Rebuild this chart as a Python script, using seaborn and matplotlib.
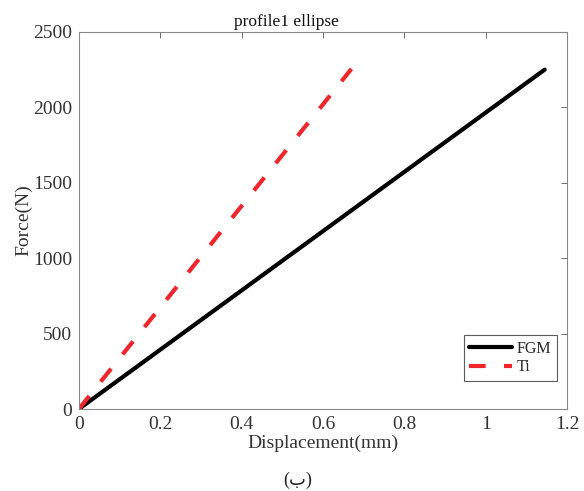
import numpy as np
import pandas as pd
import matplotlib
matplotlib.use("Agg")
import matplotlib.pyplot as plt
import seaborn as sns

# endpoints of the two (linear) force-displacement curves
fgm_disp = [0.0, 1.145]
fgm_force = [0.0, 2250.0]
ti_disp = [0.0, 0.67]
ti_force = [0.0, 2255.0]

x_ticks = [0, 0.2, 0.4, 0.6, 0.8, 1, 1.2]
x_labels = ["0", "0.2", "0.4", "0.6", "0.8", "1", "1.2"]
y_ticks = [0, 500, 1000, 1500, 2000, 2500]

df = pd.concat([
    pd.DataFrame({"disp": fgm_disp, "force": fgm_force, "mat": "FGM"}),
    pd.DataFrame({"disp": ti_disp, "force": ti_force, "mat": "Ti"}),
])

sns.set_theme(style="white")
plt.rcParams['font.family'] = ['Liberation Serif', 'DejaVu Sans']

red = "#f0262b"
ti_dash = (4.0, 4.4)

fig = plt.figure(figsize=(5.84, 4.91), dpi=100)
ax = fig.add_axes([0.135, 0.167, 0.836, 0.768])

sns.lineplot(data=df, x="disp", y="force", hue="mat", style="mat",
             palette={"FGM": "black", "Ti": red},
             dashes={"FGM": "", "Ti": ti_dash},
             linewidth=3, ax=ax, legend=False)

ax.set_xlim(0, 1.2)
ax.set_ylim(0, 2500)
ax.set_xticks(x_ticks)
ax.set_xticklabels(x_labels)
ax.set_yticks(y_ticks)
ax.tick_params(direction="in", length=4, width=0.6, color="#555555",
               top=True, right=True, labelsize=14, pad=5, labelcolor="#333333")
for s in ax.spines.values():
    s.set_color("#888888")
    s.set_linewidth(0.8)

ax.set_xlabel("Displacement(mm)", fontsize=14, color="#333333", labelpad=1)
ax.set_ylabel("Force(N)", fontsize=14, color="#333333", labelpad=0)
ax.set_title("profile1 ellipse", fontsize=12.5, color="#111111", pad=4, x=0.426)

ax.plot([], [], color="black", lw=3, label="FGM")
ax.plot([], [], color=red, lw=3, dashes=ti_dash, label="Ti")
leg = ax.legend(loc="lower right", bbox_to_anchor=(0.98, 0.075), fontsize=11.5,
                frameon=True, fancybox=False, borderpad=0.35, handlelength=2.7,
                handletextpad=0.3, labelspacing=0.15, borderaxespad=0)
leg.get_frame().set_edgecolor("#333333")
leg.get_frame().set_linewidth(0.8)

fig.text(0.51, 0.021, "(ب)", ha="center", va="center", fontsize=13, color="#222222")

fig.savefig("out.png", dpi=100)
